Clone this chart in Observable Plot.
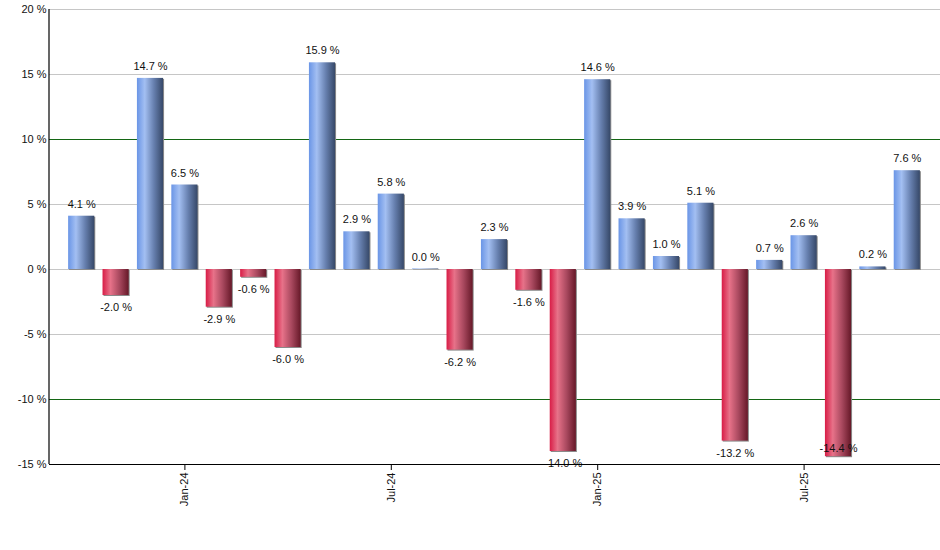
<!DOCTYPE html>
<html>
<head>
<meta charset="utf-8">
<script src="https://cdn.jsdelivr.net/npm/d3@7"></script>
<script src="https://cdn.jsdelivr.net/npm/@observablehq/plot@0.6"></script>
<style>
  html, body { margin: 0; padding: 0; background: #fff; }
  #chart svg { display: block; }
</style>
</head>
<body>
<div id="chart"></div>
<script>
const months = ["Oct-23","Nov-23","Dec-23","Jan-24","Feb-24","Mar-24","Apr-24","May-24","Jun-24","Jul-24","Aug-24","Sep-24","Oct-24","Nov-24","Dec-24","Jan-25","Feb-25","Mar-25","Apr-25","May-25","Jun-25","Jul-25","Aug-25","Sep-25","Oct-25"];
const returns = [4.1, -2.0, 14.7, 6.5, -2.9, -0.6, -6.0, 15.9, 2.9, 5.8, 0.04, -6.2, 2.3, -1.6, -14.0, 14.6, 3.9, 1.0, 5.1, -13.2, 0.7, 2.6, -14.4, 0.2, 7.6];
const xTicks = ["Jan-24","Jul-24","Jan-25","Jul-25"];
const yTicks = [-15, -10, -5, 0, 5, 10, 15, 20];
const grayGrid = [-5, 0, 5, 15, 20];
const greenGrid = [-10, 10];

const data = months.map((m, i) => ({month: m, value: returns[i]}));
const label = d => d.value.toFixed(1) + " %";

const font = "'Liberation Sans', Arial, sans-serif";

const plot = Plot.plot({
  width: 940,
  height: 550,
  marginTop: 9,
  marginBottom: 86,
  marginLeft: 49,
  marginRight: 0,
  style: {fontFamily: font, fontSize: "11px", color: "#111", background: "#fff"},
  x: {domain: months, range: [64, 924], paddingInner: 0.24, paddingOuter: 0.12, round: false, label: null},
  y: {domain: [-15, 20], label: null},
  marks: [
    Plot.ruleY(grayGrid, {stroke: "#c6c6c6", strokeWidth: 1}),
    Plot.ruleY(greenGrid, {stroke: "#146614", strokeWidth: 1}),
    Plot.barY(data, {x: "month", y: "value", fill: "#8a8a8a", dx: 1, dy: 1}),
    Plot.barY(data, {x: "month", y: "value", fill: d => d.value >= 0 ? "url(#gradBlue)" : "url(#gradRed)"}),
    Plot.text(data.filter(d => d.value >= 0), {x: "month", y: "value", text: label, dy: -12, fill: "#111", fontSize: 11}),
    Plot.text(data.filter(d => d.value < 0 && d.value >= -14.2), {x: "month", y: "value", text: label, dy: 12, fill: "#111", fontSize: 11}),
    Plot.text(data.filter(d => d.value < -14.2), {x: "month", y: "value", text: label, dy: -8, fill: "#111", fontSize: 11}),
    Plot.ruleY([-15], {stroke: "#000", strokeWidth: 1.2}),
    Plot.axisY({ticks: yTicks, tickSize: 0, tickPadding: 3, tickFormat: d => d + " %", fontSize: 11, fill: "#111"}),
    Plot.axisX({ticks: xTicks, tickSize: 6, tickPadding: 2, tickRotate: -90, fontSize: 11, fill: "#111", stroke: "#000"})
  ]
});

const svg = d3.select(plot);
const defs = svg.insert("defs", ":first-child");
const blue = defs.append("linearGradient").attr("id", "gradBlue").attr("x1", "0").attr("x2", "1").attr("y1", "0").attr("y2", "0");
[["0%", "#6a95e6"], ["30%", "#a3bff2"], ["65%", "#667fae"], ["100%", "#364868"]].forEach(([o, c]) => blue.append("stop").attr("offset", o).attr("stop-color", c));
const red = defs.append("linearGradient").attr("id", "gradRed").attr("x1", "0").attr("x2", "1").attr("y1", "0").attr("y2", "0");
[["0%", "#d81c46"], ["30%", "#e77289"], ["65%", "#a8485e"], ["100%", "#661828"]].forEach(([o, c]) => red.append("stop").attr("offset", o).attr("stop-color", c));

// left axis line
svg.append("line").attr("x1", 49).attr("x2", 49).attr("y1", 9).attr("y2", 464).attr("stroke", "#000").attr("stroke-width", 1.2);

document.getElementById("chart").appendChild(plot);
</script>
</body>
</html>
